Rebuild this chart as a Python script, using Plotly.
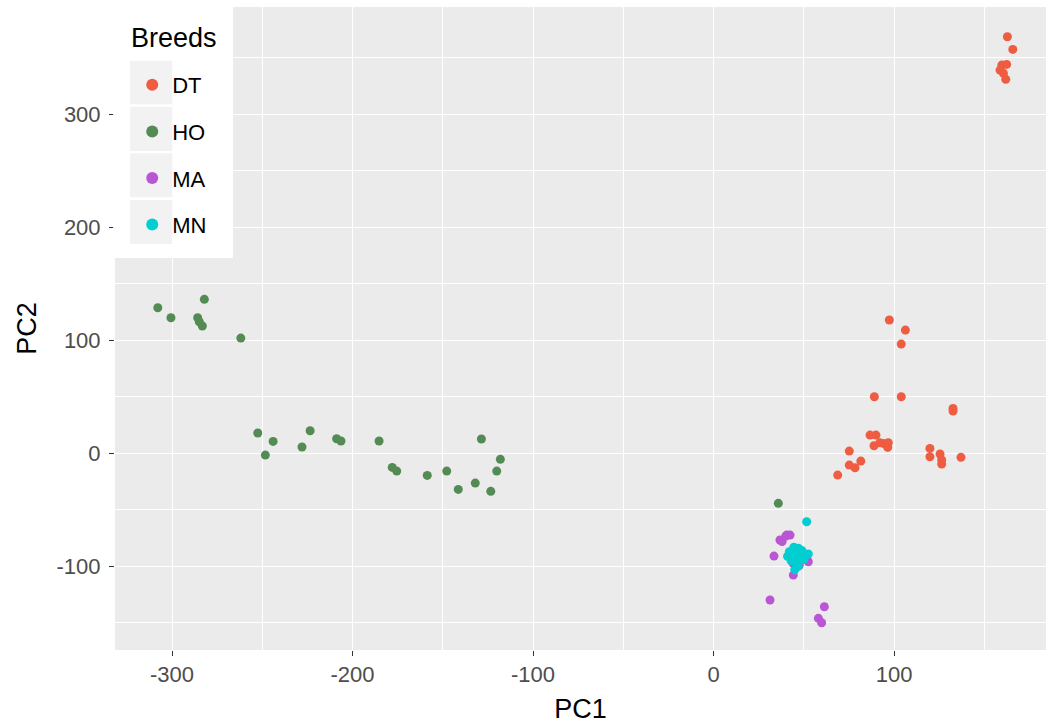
import plotly.graph_objects as go

# Principal component scores per breed
dt_pc1 = [97.4, 106.3, 104.0, 89.1, 104.0, 132.7, 132.7, 86.7, 90.0, 88.9, 94.1, 96.8,
          96.5, 92.2, 75.2, 75.2, 78.4, 81.6, 68.8, 119.9, 119.9, 125.5, 126.4, 126.4,
          137.1, 162.8, 165.8, 159.7, 162.4, 158.7, 160.6, 161.9]
dt_pc2 = [118.0, 109.1, 96.7, 50.1, 50.1, 39.8, 37.4, 16.2, 16.2, 6.7, 8.8, 9.4,
          5.3, 9.4, 2.0, -10.4, -12.7, -6.8, -19.2, 4.4, -3.0, -0.6, -5.9, -9.5,
          -3.5, 368.7, 357.5, 343.6, 344.2, 339.2, 336.3, 331.0]

ho_pc1 = [-307.9, -300.6, -282.1, -285.8, -284.9, -283.2, -261.9, -252.5, -244.0, -248.3,
          -228.0, -223.5, -208.8, -206.4, -185.3, -178.0, -175.5, -158.6, -147.8, -141.4,
          -132.0, -128.6, -123.4, -120.1, -118.1, 35.9]
ho_pc2 = [128.9, 120.0, 136.3, 120.0, 116.5, 112.7, 102.0, 18.0, 10.6, -1.5,
          5.6, 20.0, 12.9, 10.9, 10.9, -12.4, -15.7, -19.5, -15.7, -31.9,
          -26.3, 12.7, -33.6, -15.7, -5.3, -44.2]

ma_pc1 = [40.0, 42.4, 33.5, 44.2, 52.5, 31.3, 61.4, 58.1, 59.9, 36.8, 40.6, 38.0, 44.0, 47.5]
ma_pc2 = [-73.2, -72.3, -90.9, -107.7, -95.9, -129.8, -135.7, -146.0, -149.9, -76.7,
          -72.3, -78.0, -97.0, -99.0]

mn_pc1 = [51.6, 44.5, 47.0, 42.0, 45.0, 49.0, 52.5, 41.0, 44.0, 48.0, 51.0, 43.0,
          46.0, 47.0, 45.0, 43.0, 50.0]
mn_pc2 = [-60.5, -83.0, -84.0, -87.0, -87.0, -86.0, -89.0, -91.0, -92.0, -91.0, -90.0,
          -95.0, -96.0, -100.0, -103.0, -88.0, -94.0]

breeds = ["DT", "HO", "MA", "MN"]
colors = ["#EE5C42", "#548B54", "#BA55D3", "#00CED1"]
series = [(dt_pc1, dt_pc2), (ho_pc1, ho_pc2), (ma_pc1, ma_pc2), (mn_pc1, mn_pc2)]

x_ticks = [-300, -200, -100, 0, 100]
y_ticks = [-100, 0, 100, 200, 300]

fig = go.Figure()
for name, col, (xs, ys) in zip(breeds, colors, series):
    fig.add_trace(go.Scatter(
        x=xs, y=ys, mode="markers", name=name, legendgroup=name,
        marker=dict(color=col, size=9, line=dict(width=0)),
    ))

FONT = "Liberation Sans, Arial, sans-serif"
tick_font = dict(family=FONT, size=22, color="#4D4D4D")
title_font = dict(family=FONT, size=27, color="#000000")

axis_common = dict(
    showgrid=True, gridcolor="#FFFFFF", gridwidth=1.3,
    zeroline=False, showline=False,
    ticks="outside", ticklen=5, tickwidth=1.1, tickcolor="#333333",
    tickfont=tick_font,
)

fig.update_xaxes(
    range=[-331.6, 184.2], tickvals=x_ticks, ticktext=[str(v) for v in x_ticks],
    title=dict(text="PC1", font=title_font, standoff=12),
    minor=dict(showgrid=True, gridcolor="#FFFFFF", gridwidth=0.6, tickvals=[-250, -150, -50, 50, 150]),
    **axis_common,
)
fig.update_yaxes(
    range=[-174, 395], tickvals=y_ticks, ticktext=[str(v) for v in y_ticks],
    title=dict(text="PC2", font=title_font, standoff=12),
    ticklabelstandoff=4,
    minor=dict(showgrid=True, gridcolor="#FFFFFF", gridwidth=0.6, tickvals=[-150, -50, 50, 150, 250, 350]),
    **axis_common,
)

# Legend panel: white box with grey key backgrounds
shapes = [dict(type="rect", xref="paper", yref="paper", x0=-0.002, x1=0.1267, y0=0.6096, y1=1.012,
               fillcolor="#FFFFFF", line=dict(width=0), layer="above")]
key_rows = [(0.8487, 0.9165), (0.7761, 0.8450), (0.7040, 0.7725), (0.6314, 0.6998)]
for y0, y1 in key_rows:
    shapes.append(dict(type="rect", xref="paper", yref="paper", x0=0.0161, x1=0.0615, y0=y0, y1=y1,
                       fillcolor="#F2F2F2", line=dict(width=0), layer="above"))

fig.update_layout(
    width=1053, height=728,
    margin=dict(l=115, r=7, t=7, b=78),
    paper_bgcolor="#FFFFFF", plot_bgcolor="#EBEBEB",
    shapes=shapes,
    annotations=[dict(text="Breeds", xref="paper", yref="paper", x=0.0155, y=(650 - 38) / 643,
                      xanchor="left", yanchor="middle", showarrow=False, font=title_font)],
    legend=dict(
        font=dict(family=FONT, size=22, color="#000000"),
        bgcolor="rgba(0,0,0,0)", borderwidth=0,
        x=0.0185, xanchor="left", y=(650 - 64) / 643, yanchor="top",
        tracegroupgap=15, itemsizing="constant",
    ),
)

fig.write_html("out.html")
